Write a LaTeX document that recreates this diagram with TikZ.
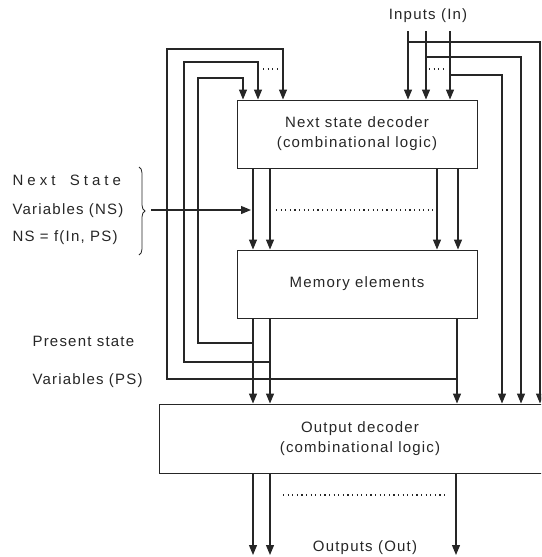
\documentclass[tikz,border=0pt]{standalone}
\usepackage{fontspec}
\setmainfont[LetterSpace=8]{Liberation Sans}
\newfontfamily\widefont[LetterSpace=27]{Liberation Sans}
\usetikzlibrary{arrows.meta,decorations.pathreplacing}
\begin{document}
\begin{tikzpicture}[x=1pt,y=-1pt,line width=1.2pt,draw=black!85,text=black!85,
        font=\fontsize{15}{20}\selectfont,
        arr/.style={-{Triangle[width=8pt,length=10pt]}},
        box/.style={draw,line width=0.9pt,minimum width=240pt,minimum height=68pt,align=center,inner sep=0pt},
        dots/.style={dash pattern=on 1.2pt off 3.4pt},
        lbl/.style={anchor=base west,inner sep=0pt}]
        \clip (0,0) rectangle (541,557);
        % blocks
        \node[box] (nsd) at (357,134) {Next state decoder\\(combinational logic)};
        \node[box] (mem) at (357,284) {Memory elements};
        \node[box,minimum width=402pt,minimum height=69pt] (od) at (360,438.5) {Output decoder\\(combinational logic)};
        % inputs
        \node[inner sep=0pt,anchor=base] (inp) at (428,19) {Inputs (In)};
        \coordinate (ina) at (408,31);
        \coordinate (inb) at (426,31);
        \coordinate (inc) at (450,31);
        \draw[arr] (ina) -- (ina |- nsd.north);
        \draw[arr] (inb) -- (inb |- nsd.north);
        \draw[arr] (inc) -- (inc |- nsd.north);
        \coordinate (ra) at (540,42);
        \coordinate (rb) at (521,57);
        \coordinate (rc) at (502,75);
        \draw[arr] (ra -| ina) -- (ra) -- (ra |- od.north);
        \draw[arr] (rb -| inb) -- (rb) -- (rb |- od.north);
        \draw[arr] (rc -| inc) -- (rc) -- (rc |- od.north);
        \draw[dots] (429,69) -- (447,69);
        % present state feedback
        \coordinate (psa) at (253,343);
        \coordinate (psb) at (270,362);
        \coordinate (psc) at (457,379);
        \draw[arr] (psa) -| (198,78) -| (243,0 |- nsd.north);
        \draw[arr] (psb) -| (184,62) -| (258,0 |- nsd.north);
        \draw[arr] (psc) -| (167,49) -| (283,0 |- nsd.north);
        \draw[dots] (263,69) -- (280,69);
        \draw[arr] (mem.south -| psa) -- (od.north -| psa);
        \draw[arr] (mem.south -| psb) -- (od.north -| psb);
        \draw[arr] (mem.south -| psc) -- (od.north -| psc);
        % next state
        \foreach \x in {253,270,437,458}
            \draw[arr] (\x,0 |- nsd.south) -- (\x,0 |- mem.north);
        \draw[dots] (276,210) -- (433,210);
        \coordinate (nsin) at (151,210);
        \coordinate (nsout) at (251,210);
        \draw[arr] (nsin) -- (nsout);
        \draw[line width=0.8pt,decorate,decoration={brace,amplitude=6pt}] (139,167) -- (139,255);
        \node[lbl,font=\fontsize{15}{20}\widefont] (nsa) at (12,185) {Next\hspace{6pt} State};
        \node[lbl] (nsb) at (12,214) {Variables (NS)};
        \node[lbl] (nsc) at (12,241) {NS = f(In, PS)};
        \node[lbl] (psl) at (32,346) {Present state};
        \node[lbl] (psm) at (32,384) {Variables (PS)};
        % outputs
        \foreach \x in {253,270,456}
            \draw[arr] (\x,0 |- od.south) -- (\x,555);
        \draw[dots] (283,495) -- (446,495);
        \node[inner sep=0pt,anchor=base] (outp) at (365,551) {Outputs (Out)};
    \end{tikzpicture}
\end{document}
